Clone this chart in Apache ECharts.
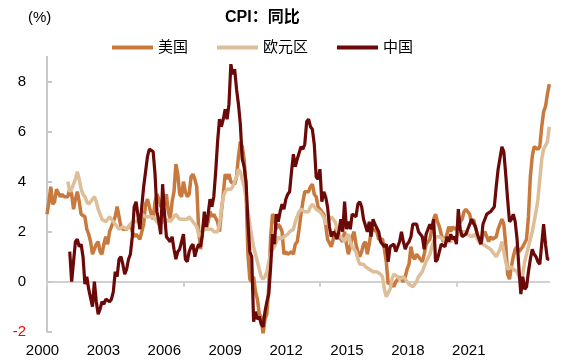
<!DOCTYPE html>
<html><head><meta charset="utf-8">
<script src="https://cdn.jsdelivr.net/npm/echarts@6/dist/echarts.min.js"></script>
<style>html,body{margin:0;padding:0;background:#fff}#c{width:584px;height:362px}</style>
</head><body><div id="c"></div>
<script>
// Monthly, Jan 2000 .. Feb 2022
const startYear = 2000, nMonths = 266;
const xTickLabels = ['2000','2003','2006','2009','2012','2015','2018','2021'];
const yTicks = [-2, 0, 2, 4, 6, 8];

const usCPI = [
 2.7,3.2,3.8,3.1,3.2,3.7,3.7,3.4,3.5,3.4,3.4,3.4,
 3.7,3.5,2.9,3.3,3.6,3.2,2.7,2.7,2.6,2.1,1.9,1.6,
 1.1,1.1,1.5,1.6,1.2,1.1,1.5,1.8,1.5,2.0,2.2,2.4,
 2.6,3.0,3.0,2.2,2.1,2.1,2.1,2.2,2.3,2.0,1.8,1.9,
 1.9,1.7,1.7,2.3,3.1,3.3,3.0,2.7,2.5,3.2,3.5,3.3,
 3.0,3.0,3.1,3.5,2.8,2.5,3.2,3.6,4.7,4.3,3.5,3.4,
 4.0,3.6,3.4,3.5,4.2,4.3,4.1,3.8,2.1,1.3,2.0,2.5,
 2.1,2.4,2.8,2.6,2.7,2.7,2.4,2.0,2.8,3.5,4.3,4.1,
 4.3,4.0,4.0,3.9,4.2,5.0,5.6,5.4,4.9,3.7,1.1,0.1,
 0.0,0.2,-0.4,-0.7,-1.3,-1.4,-2.1,-1.5,-1.3,-0.2,1.8,2.7,
 2.6,2.1,2.3,2.2,2.0,1.1,1.2,1.1,1.1,1.2,1.1,1.5,
 1.6,2.1,2.7,3.2,3.6,3.6,3.6,3.8,3.9,3.5,3.4,3.0,
 2.9,2.9,2.7,2.3,1.7,1.7,1.4,1.7,2.0,2.2,1.8,1.7,
 1.6,2.0,1.5,1.1,1.4,1.8,2.0,1.5,1.2,1.0,1.2,1.5,
 1.6,1.1,1.5,2.0,2.1,2.1,2.0,1.7,1.7,1.7,1.3,0.8,
 -0.1,0.0,-0.1,-0.2,0.0,0.1,0.2,0.2,0.0,0.2,0.5,0.7,
 1.4,1.0,0.9,1.1,1.0,1.0,0.8,1.1,1.5,1.6,1.7,2.1,
 2.5,2.7,2.4,2.2,1.9,1.6,1.7,1.9,2.2,2.0,2.2,2.1,
 2.1,2.2,2.4,2.5,2.8,2.9,2.9,2.7,2.3,2.5,2.2,1.9,
 1.6,1.5,1.9,2.0,1.8,1.6,1.8,1.7,1.7,1.8,2.1,2.3,
 2.5,2.3,1.5,0.3,0.1,0.6,1.0,1.3,1.4,1.2,1.2,1.4,
 1.4,1.7,2.6,4.2,5.0,5.4,5.4,5.3,5.4,6.2,6.8,7.0,
 7.5,7.9
];

const euroCPI = [
 null,null,null,null,null,null,null,null,null,null,null,4.0,
 3.6,3.7,3.9,4.1,4.4,4.1,3.7,3.5,3.4,3.2,3.1,3.2,
 3.3,3.4,3.2,2.9,2.7,2.5,2.5,2.4,2.5,2.6,2.5,2.4,
 2.3,2.2,2.1,2.1,2.2,2.2,2.1,2.2,2.3,2.4,2.4,2.4,
 2.5,2.6,2.7,2.7,2.6,2.6,2.6,2.6,2.6,2.5,2.4,2.3,
 2.3,2.4,2.4,2.4,2.5,2.4,2.5,2.6,2.7,2.6,2.5,2.5,
 2.5,2.5,2.5,2.6,2.5,2.5,2.3,2.2,1.9,1.8,2.0,2.1,
 2.1,2.1,2.1,2.1,2.0,2.0,2.0,2.3,2.9,3.4,3.6,3.7,
 3.7,3.7,3.8,4.0,4.2,4.5,4.4,4.1,3.8,3.3,2.8,2.3,
 1.8,1.4,1.1,0.8,0.5,0.2,0.1,0.2,0.4,0.8,1.1,1.3,
 1.4,1.6,1.8,1.7,1.7,1.8,1.8,1.9,2.0,2.0,2.1,2.4,
 2.6,2.8,2.9,2.9,2.8,2.8,2.8,3.0,3.1,3.0,2.9,2.9,
 2.8,2.8,2.6,2.3,2.4,2.4,2.6,2.6,2.4,2.1,1.9,1.8,
 1.7,1.6,1.8,1.9,1.6,1.4,1.3,1.2,0.9,0.7,0.7,0.7,
 0.6,0.6,0.5,0.5,0.4,0.4,0.4,0.4,0.3,0.2,-0.3,-0.6,
 -0.6,-0.3,0.1,0.3,0.3,0.2,0.1,0.1,0.2,0.2,0.0,-0.1,
 -0.1,-0.2,-0.2,0.0,0.2,0.3,0.4,0.6,0.8,0.8,1.1,1.4,
 1.6,1.8,1.8,1.8,1.8,1.7,1.7,1.6,1.6,1.6,1.7,1.7,
 1.8,1.9,1.9,2.0,2.0,2.0,1.9,1.9,1.8,1.8,1.9,1.7,
 1.6,1.6,1.5,1.5,1.4,1.4,1.3,1.2,1.1,1.0,1.0,1.3,
 1.6,1.2,0.8,0.5,0.5,0.6,0.5,0.5,0.4,0.2,0.0,0.3,
 0.8,1.1,1.4,1.7,2.0,2.4,2.8,3.3,4.1,4.9,5.3,5.3,
 5.6,6.2
];

const chinaCPI = [
 null,null,null,null,null,null,null,null,null,null,null,null,
 1.2,0.0,0.8,1.6,1.7,1.4,1.5,1.0,-0.1,0.2,-0.3,-0.3,
 -1.0,0.0,-0.8,-1.3,-1.1,-0.8,-0.9,-0.7,-0.7,-0.8,-0.7,-0.4,
 0.4,0.2,0.9,1.0,0.7,0.3,0.5,0.9,1.1,1.8,3.0,3.2,
 3.2,2.1,3.0,3.8,4.4,5.0,5.3,5.3,5.2,4.3,2.8,2.4,
 1.9,3.9,2.7,1.8,1.8,1.6,1.8,1.3,0.9,1.2,1.3,1.6,
 1.9,0.9,0.8,1.2,1.4,1.5,1.0,1.3,1.5,1.4,1.9,2.8,
 2.2,2.7,3.3,3.0,3.4,4.4,5.6,6.5,6.2,6.5,6.9,6.5,
 7.1,8.7,8.3,8.5,7.7,7.1,6.3,4.9,4.6,4.0,2.4,1.2,
 1.0,-1.6,-1.2,-1.5,-1.4,-1.7,-1.8,-1.2,-0.8,-0.5,0.6,1.9,
 1.5,2.7,2.4,2.8,3.1,2.9,3.3,3.5,3.6,4.4,5.1,4.6,
 4.9,4.9,5.4,5.3,5.5,6.4,6.5,6.2,6.1,5.5,4.2,4.1,
 4.5,3.2,3.6,3.4,3.0,2.2,1.8,2.0,1.9,1.7,2.0,2.5,
 2.0,3.2,2.1,2.4,2.1,2.7,2.7,2.6,3.1,3.2,3.0,2.5,
 2.5,2.0,2.4,1.8,2.5,2.3,2.3,2.0,1.6,1.6,1.4,1.5,
 0.8,1.4,1.4,1.5,1.2,1.4,1.6,2.0,1.6,1.3,1.5,1.6,
 1.8,2.3,2.3,2.3,2.0,1.9,1.8,1.3,1.9,2.1,2.3,2.1,
 2.5,0.8,0.9,1.2,1.5,1.5,1.4,1.8,1.6,1.9,1.7,1.8,
 1.5,2.9,2.1,1.8,1.8,1.9,2.1,2.3,2.5,2.5,2.2,1.9,
 1.7,1.5,2.3,2.5,2.7,2.7,2.8,2.8,3.0,3.8,4.5,4.5,
 5.4,5.2,4.3,3.3,2.4,2.5,2.7,2.4,1.7,0.5,-0.5,0.2,
 -0.3,-0.2,0.4,0.9,1.3,1.1,1.0,0.8,0.7,1.5,2.3,1.5,
 0.9,0.9
];

const months = [];
for (let i = 0; i < nMonths; i++) {
  const y = startYear + Math.floor(i / 12), m = i % 12 + 1;
  months.push(y + '-' + (m < 10 ? '0' + m : m));
}

const FONT = '"Liberation Sans", Arial, "Noto Sans CJK SC", sans-serif';
const chart = echarts.init(document.getElementById('c'), null, {renderer: 'canvas'});
chart.setOption({
  animation: false,
  textStyle: {fontFamily: FONT},
  title: [
    {text: 'CPI：同比', left: 220, top: 5, textStyle: {fontFamily: FONT, fontSize: 16, fontWeight: 'bold', color: '#000'}},
    {text: '(%)', left: 23, top: 5, textStyle: {fontFamily: FONT, fontSize: 15, fontWeight: 'normal', color: '#000'}}
  ],
  legend: {
    left: 107, top: 35, icon: 'rect', itemWidth: 41, itemHeight: 4, itemGap: 29,
    textStyle: {fontFamily: FONT, fontSize: 15, color: '#000'},
    data: ['美国', '欧元区', '中国']
  },
  grid: [
    {left: 47, right: 34.7, top: 56.7, bottom: 30.3},
    {left: 42.5, right: 115.2, top: 56.7, bottom: 30.3}
  ],
  xAxis: [
    {type: 'category', gridIndex: 0, data: months, boundaryGap: false,
     axisLine: {onZero: true, lineStyle: {color: '#d0d0d0', width: 2}},
     axisTick: {show: true, interval: 71, length: 5, lineStyle: {color: '#d0d0d0', width: 2}},
     axisLabel: {show: false}, splitLine: {show: false}},
    {type: 'category', gridIndex: 1, data: xTickLabels, boundaryGap: false,
     axisLine: {show: false}, axisTick: {show: false},
     axisLabel: {show: true, interval: 0, margin: 12, fontSize: 15, color: '#000', fontFamily: FONT}}
  ],
  yAxis: [
    {type: 'value', gridIndex: 0, min: -2, max: 9, interval: 2,
     axisLine: {show: true, lineStyle: {color: '#c8c8c8', width: 2}},
     axisTick: {show: true, inside: true, length: 5, customValues: yTicks, lineStyle: {color: '#c8c8c8', width: 2}},
     axisLabel: {margin: 21, fontSize: 15, fontFamily: FONT, customValues: yTicks,
       color: function (v) { return v < 0 ? '#ff0000' : '#000'; }},
     splitLine: {show: false}},
    {type: 'value', gridIndex: 1, min: -2, max: 9, show: false}
  ],
  series: [
    {name: '美国', type: 'line', data: usCPI, showSymbol: false, symbol: 'none',
     lineStyle: {color: '#C8793D', width: 3.5}, itemStyle: {color: '#C8793D'}},
    {name: '欧元区', type: 'line', data: euroCPI, showSymbol: false, symbol: 'none',
     lineStyle: {color: '#DDBE98', width: 3.5}, itemStyle: {color: '#DDBE98'}},
    {name: '中国', type: 'line', data: chinaCPI, showSymbol: false, symbol: 'none',
     lineStyle: {color: '#6B0808', width: 3.2}, itemStyle: {color: '#6B0808'}}
  ]
});
</script></body></html>
